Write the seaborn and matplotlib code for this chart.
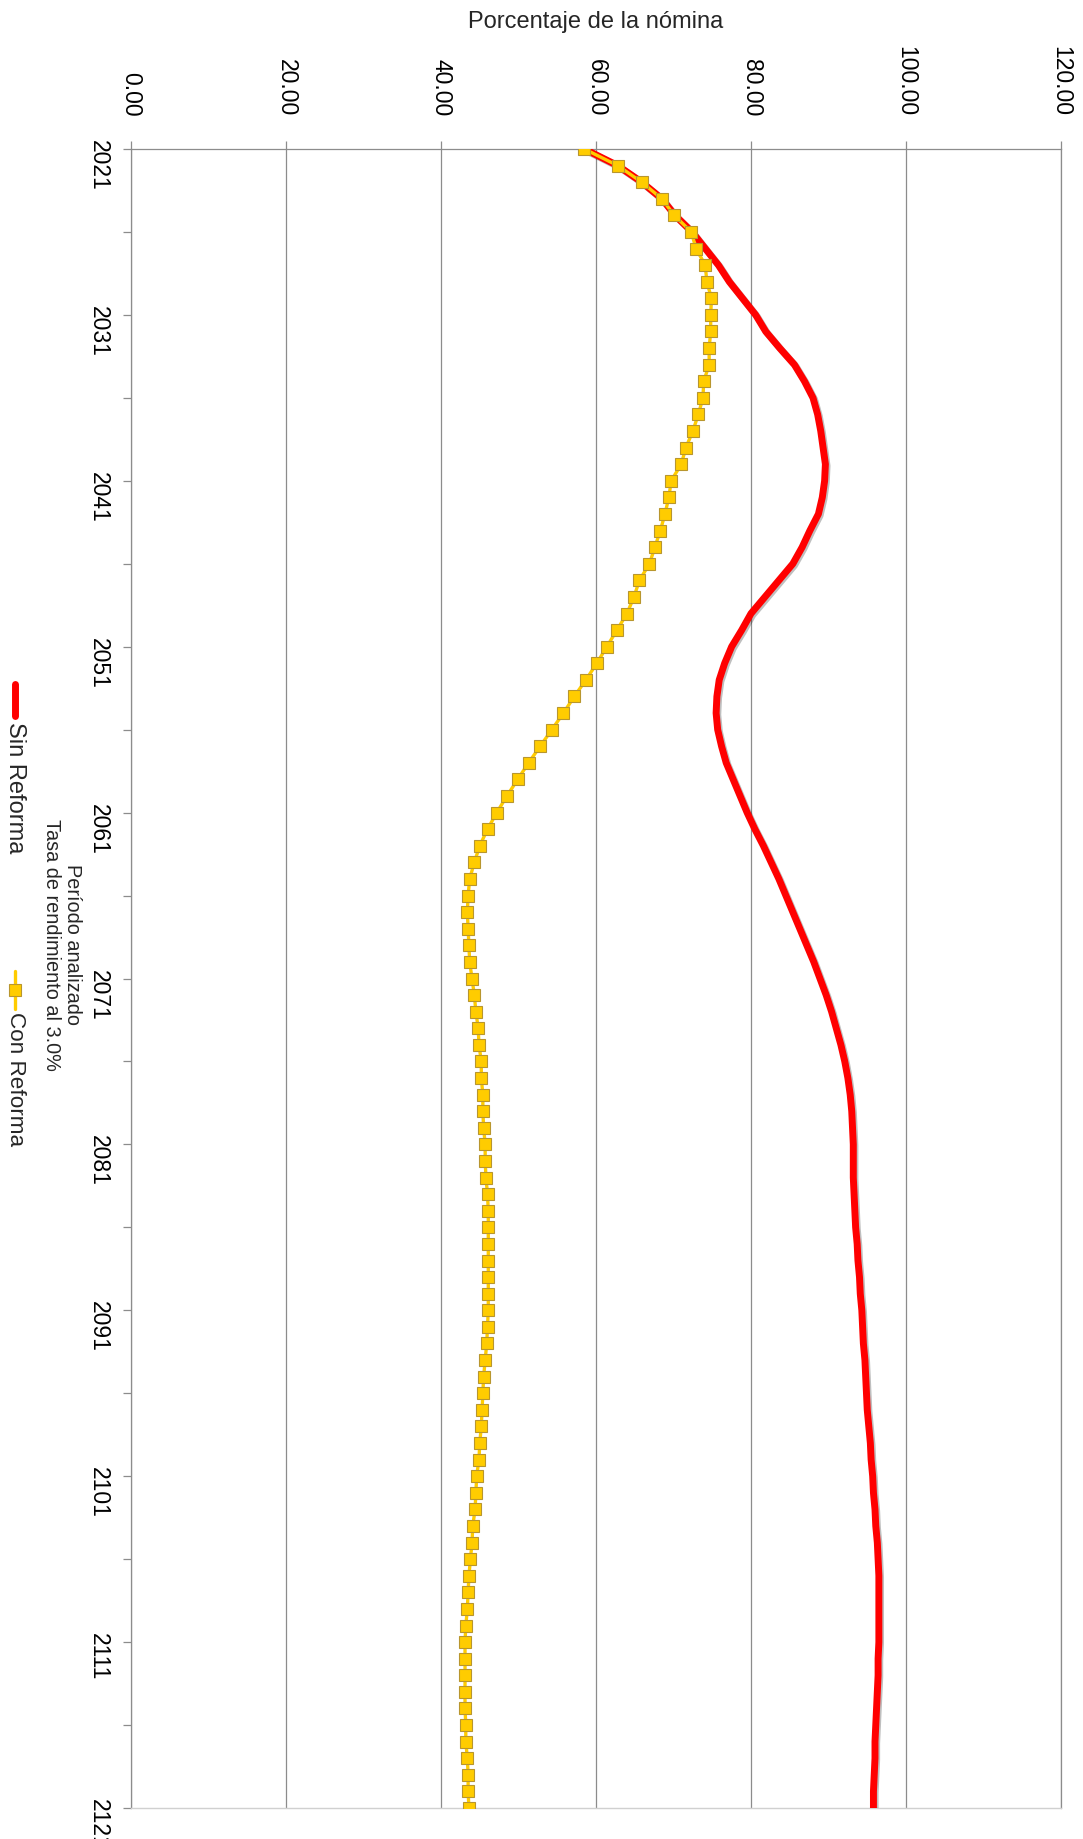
import numpy as np
import pandas as pd
import matplotlib
matplotlib.use("Agg")
import matplotlib.pyplot as plt
import seaborn as sns
from matplotlib.lines import Line2D
from matplotlib.ticker import FixedLocator
import matplotlib.patheffects as pe

# ---------------- data ----------------
years = list(range(2021, 2122))

sin_reforma = [
    58.5, 62.8, 65.9, 68.5, 70.2, 72.4, 74.1, 75.8, 77.2, 78.9,   # 2021-2030
    80.6, 81.9, 83.7, 85.6, 86.9, 88.0, 88.6, 89.0, 89.3, 89.6,   # 2031-2040
    89.5, 89.2, 88.7, 87.6, 86.6, 85.4, 83.6, 81.8, 80.0, 78.8,   # 2041-2050
    77.5, 76.6, 75.9, 75.6, 75.5, 75.7, 76.2, 76.8, 77.7, 78.6,   # 2051-2060
    79.5, 80.5, 81.6, 82.6, 83.6, 84.5, 85.4, 86.3, 87.2, 88.1,   # 2061-2070
    88.9, 89.7, 90.4, 91.0, 91.6, 92.1, 92.5, 92.8, 93.0, 93.1,   # 2071-2080
    93.2, 93.2, 93.2, 93.3, 93.4, 93.5, 93.7, 93.8, 94.0, 94.1,   # 2081-2090
    94.3, 94.4, 94.5, 94.7, 94.8, 94.9, 95.0, 95.2, 95.4, 95.5,   # 2091-2100
    95.7, 95.8, 96.0, 96.1, 96.3, 96.4, 96.5, 96.5, 96.5, 96.5,   # 2101-2110
    96.5, 96.4, 96.4, 96.3, 96.2, 96.1, 96.0, 96.0, 95.9, 95.8,   # 2111-2120
    95.8,                                                         # 2121
]

con_reforma = [
    58.5, 62.8, 65.9, 68.5, 70.1, 72.3, 72.9, 74.1, 74.3, 74.9,   # 2021-2030
    74.8, 74.8, 74.6, 74.6, 73.9, 73.8, 73.2, 72.5, 71.6, 71.0,   # 2031-2040
    69.7, 69.4, 68.9, 68.3, 67.6, 66.9, 65.6, 64.9, 64.0, 62.7,   # 2041-2050
    61.4, 60.1, 58.7, 57.2, 55.8, 54.3, 52.8, 51.3, 49.9, 48.5,   # 2051-2060
    47.2, 46.0, 45.0, 44.3, 43.7, 43.5, 43.4, 43.5, 43.6, 43.7,   # 2061-2070
    44.0, 44.3, 44.5, 44.8, 44.9, 45.2, 45.2, 45.4, 45.4, 45.5,   # 2071-2080
    45.7, 45.7, 45.8, 46.0, 46.1, 46.1, 46.1, 46.1, 46.1, 46.1,   # 2081-2090
    46.1, 46.0, 45.9, 45.7, 45.5, 45.4, 45.3, 45.2, 45.0, 44.9,   # 2091-2100
    44.6, 44.5, 44.4, 44.1, 44.0, 43.8, 43.6, 43.5, 43.4, 43.2,   # 2101-2110
    43.1, 43.1, 43.1, 43.1, 43.1, 43.2, 43.2, 43.4, 43.5, 43.5,   # 2111-2120
    43.6,                                                         # 2121
]

value_ticks = [0, 20, 40, 60, 80, 100, 120]
year_ticks = list(range(2021, 2122, 10))
year_minor = list(range(2026, 2121, 10))

title = "Porcentaje de la nómina"
axis_label = "Período analizado\nTasa de rendimiento al 3.0%"
series_names = ["Sin Reforma", "Con Reforma"]

# ---------------- style ----------------
sns.set_style("white")
plt.rcParams["font.family"] = ["Liberation Sans", "DejaVu Sans"]

RED = "#FF0000"
GOLD = "#FFCC00"
GOLD_EDGE = "#B8962E"
GRID = "#8C8C8C"

W, H = 1083, 1839
fig = plt.figure(figsize=(W / 100, H / 100), dpi=100)
fig.patch.set_facecolor("white")

# axes placement (pixels): x 131..1061, y 149..1808
ax = fig.add_axes([131 / W, 1 - 1808 / H, 930 / W, (1808 - 149) / H])

df = pd.DataFrame({"anio": years, "sin": sin_reforma, "con": con_reforma})

sns.lineplot(data=df, x="sin", y="anio", orient="y", estimator=None,
             color=RED, linewidth=5.0, ax=ax, zorder=3,
             path_effects=[pe.SimpleLineShadow(offset=(1.2, -1.2), alpha=0.25),
                           pe.Normal()])
sns.lineplot(data=df, x="con", y="anio", orient="y", estimator=None,
             color=GOLD, linewidth=2.4, marker="s", markersize=8.5,
             markerfacecolor=GOLD, markeredgecolor=GOLD_EDGE,
             markeredgewidth=0.8, ax=ax, zorder=4)

ax.set_xlim(0, 120)
ax.set_ylim(2121, 2021)
ax.set_xlabel("")
ax.set_ylabel("")

# value axis at top
ax.xaxis.tick_top()
ax.set_xticks(value_ticks)
ax.set_xticklabels([f"{v:.2f}" for v in value_ticks], rotation=270, fontsize=16.5)
ax.tick_params(axis="x", which="major", top=True, bottom=False, length=5.5,
               width=0.9, color=GRID, pad=18, direction="out", labelcolor="black")

# year axis on the left
ax.set_yticks(year_ticks)
ax.set_yticklabels([str(y) for y in year_ticks], rotation=270, fontsize=16.5)
ax.yaxis.set_minor_locator(FixedLocator(year_minor))
ax.tick_params(axis="y", which="both", left=True, length=5.5, width=0.9,
               color=GRID, pad=10, direction="out", labelcolor="black")

ax.xaxis.grid(True, color=GRID, linewidth=0.9)
ax.yaxis.grid(False)
for side in ["top", "left", "right"]:
    ax.spines[side].set_visible(True)
    ax.spines[side].set_color(GRID)
    ax.spines[side].set_linewidth(0.9)
ax.spines["bottom"].set_color("#D0D0D0")
ax.spines["bottom"].set_linewidth(1.0)

# title (value axis label)
fig.text(596 / W, 1 - 22 / H, title, ha="center", va="center", fontsize=17)

# period axis label (rotated)
fig.text(62 / W, 1 - 945 / H, axis_label, ha="center", va="center",
         rotation=270, multialignment="center", fontsize=14.3, linespacing=1.15)

# legend (rotated, drawn manually)
lx = 15 / W
fig.add_artist(Line2D([lx, lx], [1 - 684 / H, 1 - 716 / H], color=RED,
                      linewidth=5.0, solid_capstyle="round",
                      transform=fig.transFigure))
fig.text(lx, 1 - 722 / H, series_names[0], ha="center", va="top",
         rotation=270, fontsize=17)
fig.add_artist(Line2D([lx, lx], [1 - 971 / H, 1 - 1009 / H], color=GOLD,
                      linewidth=2.4, transform=fig.transFigure))
fig.add_artist(Line2D([lx], [1 - 990 / H], color=GOLD, marker="s",
                      markersize=8.5, markerfacecolor=GOLD,
                      markeredgecolor=GOLD_EDGE, markeredgewidth=0.8,
                      transform=fig.transFigure))
fig.text(lx, 1 - 1012 / H, series_names[1], ha="center", va="top",
         rotation=270, fontsize=16.2)

fig.savefig("out.png", dpi=100, facecolor="white")
